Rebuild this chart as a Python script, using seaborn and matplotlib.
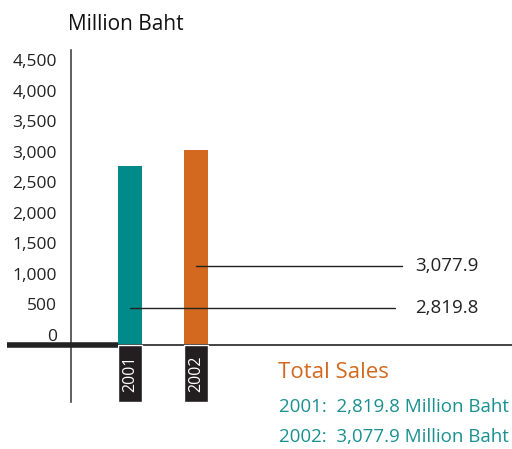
import matplotlib
matplotlib.use("Agg")
import matplotlib.pyplot as plt
import seaborn as sns
import pandas as pd

years = ["2001", "2002"]
sales = [2819.8, 3077.9]
bar_colors = ["#008B8A", "#D2691E"]
tick_values = [0, 500, 1000, 1500, 2000, 2500, 3000, 3500, 4000, 4500]
tick_labels = ["{:,}".format(v) for v in tick_values]
value_labels = ["2,819.8", "3,077.9"]
legend_title = "Total Sales"
legend_lines = ["2001:  2,819.8 Million Baht", "2002:  3,077.9 Million Baht"]
unit_label = "Million Baht"

df = pd.DataFrame({"year": years, "sales": sales})

sns.set_style("white")
plt.rcParams["font.family"] = ["Open Sans", "DejaVu Sans"]

W, H = 512, 449
fig = plt.figure(figsize=(W / 100, H / 100), dpi=100)
ax_l, ax_r, ax_t, ax_b = 71, 512, 50, 402
ax = fig.add_axes([ax_l / W, 1 - ax_b / H, (ax_r - ax_l) / W, (ax_b - ax_t) / H])

sns.barplot(data=df, x="year", y="sales", hue="year", palette=bar_colors,
            width=0.364, legend=False, ax=ax, saturation=1, linewidth=0)

ax.set_xlim(-0.894, 5.788)
ax.set_ylim(-898, 4646)

# dark boxes holding year labels below baseline
ymin = ax.get_ylim()[0]
ax.bar(range(len(years)), [ymin] * len(years), width=0.364, color="#231f20", zorder=3)
for i, y in enumerate(years):
    ax.text(i, ymin / 2, y, rotation=90, color="white", ha="center", va="center",
            fontsize=11.5, zorder=4)

# baseline
ax.axhline(0, color="#222222", lw=1.2, zorder=2)
ax.plot([-1.864, -0.182], [0, 0], color="#222222", lw=4, solid_capstyle="butt",
        clip_on=False, zorder=5)

for s in ["top", "right", "bottom"]:
    ax.spines[s].set_visible(False)
ax.spines["left"].set_color("#444444")
ax.spines["left"].set_linewidth(1.2)
ax.set_xticks([])
ax.set_yticks([])
ax.set_xlabel("")
ax.set_ylabel("")

# label axis (tick labels sit on their own scale, as in the reference)
ax2 = ax.twinx()
ax2.set_ylim(-1096, 4664)
ax2.yaxis.tick_left()
ax2.set_yticks(tick_values)
ax2.set_yticklabels(tick_labels, fontsize=12.5, color="#222222")
ax2.tick_params(axis="y", length=0, pad=10)
for s in ax2.spines.values():
    s.set_visible(False)
ax2.set_xticks([])

# leader lines with value labels
lead_y = [583, 1244]
lead_end = [4.015, 4.12]
for i, (v, ly, le) in enumerate(zip(value_labels, lead_y, lead_end)):
    ax.plot([i, le], [ly, ly], color="#222222", lw=1.0, zorder=4)
    ax.text(4.32, ly, v, fontsize=13.5, color="#222222", va="center", ha="left")

fig.text(68 / W, 1 - 25 / H, unit_label, fontsize=15, color="#111111",
         ha="left", va="center")
fig.text(278 / W, 1 - 372 / H, legend_title, fontsize=16, color="#D2691E",
         ha="left", va="center")
fig.text(279 / W, 1 - 407 / H, legend_lines[0], fontsize=13.5, color="#1A9090",
         ha="left", va="center")
fig.text(279 / W, 1 - 437 / H, legend_lines[1], fontsize=13.5, color="#1A9090",
         ha="left", va="center")

fig.savefig("out.png", dpi=100)
